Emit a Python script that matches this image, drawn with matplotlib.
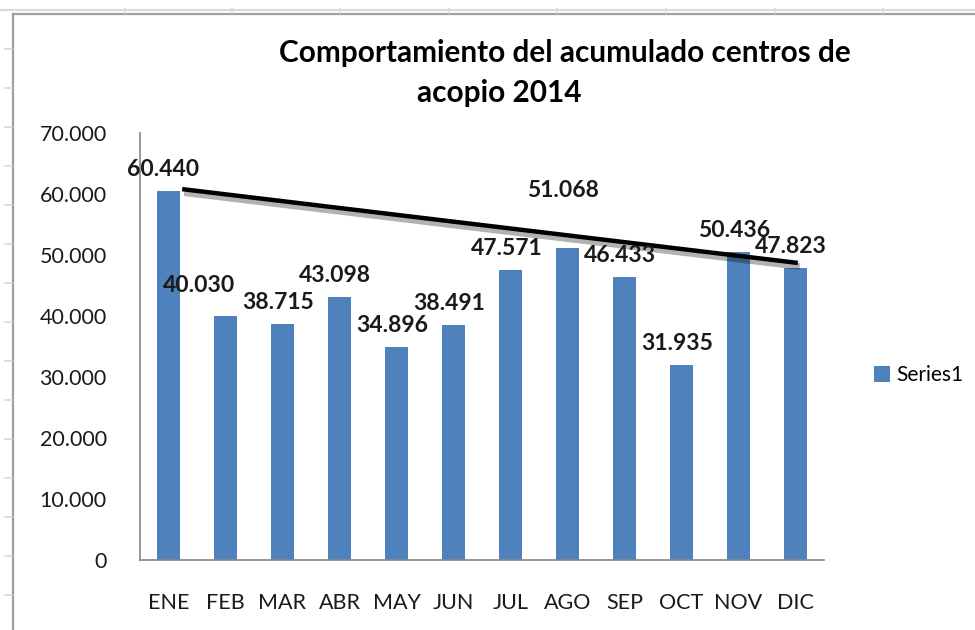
import matplotlib
matplotlib.use("Agg")
import matplotlib.pyplot as plt
import matplotlib.patheffects as pe
from matplotlib.lines import Line2D

# datos del grafico
months = ['ENE', 'FEB', 'MAR', 'ABR', 'MAY', 'JUN',
          'JUL', 'AGO', 'SEP', 'OCT', 'NOV', 'DIC']
values = [60440, 40030, 38715, 43098, 34896, 38491,
          47571, 51068, 46433, 31935, 50436, 47823]
yticks = [0, 10000, 20000, 30000, 40000, 50000, 60000, 70000]
trend_ends = [60800, 48700]   # linea dibujada a mano sobre el grafico

# labels moved by hand in the original (offsets in points)
label_shift = {0: (-4, 0), 1: (-19, 6), 7: (-3, 26)}

blue = '#4F81BD'
grey = '#868686'

plt.rcParams['font.family'] = ['Lato', 'DejaVu Sans']

fig = plt.figure(figsize=(9.75, 6.3), dpi=100)
ax = fig.add_axes([140 / 975, 1 - 560 / 630, 684 / 975, 427 / 630])

x = list(range(len(months)))
ax.bar(x, values, width=0.39, color=blue, label='Series1', zorder=2)

for i, v in enumerate(values):
    dx, dy = label_shift.get(i, (-3, 0))
    ax.annotate('{:,}'.format(v).replace(',', '.'), (i, v),
                xytext=(dx, 8 + dy), textcoords='offset points',
                ha='center', va='bottom', fontsize=16.5, fontweight='bold',
                color='#1a1a1a', zorder=4)

# linea de tendencia con sombra
ax.plot([0.24, 11.04], trend_ends, color='black', lw=3.2,
        solid_capstyle='butt', zorder=3,
        path_effects=[pe.SimpleLineShadow(offset=(1.5, -2.5), alpha=0.3,
                                          linewidth=5),
                      pe.Normal()])

ax.set_xlim(-0.5, len(months) - 0.5)
ax.set_ylim(0, 70000)
ax.set_yticks(yticks)
ax.set_yticklabels(['{:,}'.format(t).replace(',', '.') for t in yticks])
ax.set_xticks(x)
ax.set_xticklabels(months)
ax.tick_params(axis='y', length=0, pad=24, labelsize=15.5, labelcolor='#1a1a1a')
ax.tick_params(axis='x', length=0, pad=24, labelsize=15.5, labelcolor='#1a1a1a')

for s in ['top', 'right']:
    ax.spines[s].set_visible(False)
for s in ['left', 'bottom']:
    ax.spines[s].set_color(grey)
    ax.spines[s].set_linewidth(1.2)

ax.legend(loc='center left', bbox_to_anchor=(855 / 975, 1 - 375 / 630),
          bbox_transform=fig.transFigure, frameon=False, fontsize=15,
          handlelength=0.8, handleheight=0.8, handletextpad=0.3)

fig.text(565 / 975, 1 - 53 / 630, 'Comportamiento del acumulado centros de',
         ha='center', va='center', fontsize=21.4, fontweight='bold')
fig.text(499 / 975, 1 - 93 / 630, 'acopio 2014',
         ha='center', va='center', fontsize=21.4, fontweight='bold')

# borde del grafico y rejilla de la hoja de calculo
W, H = 975.0, 630.0
fig.add_artist(Line2D([0, 1], [1 - 10 / H, 1 - 10 / H], color='#d9d9d9', lw=1.5))
fig.add_artist(Line2D([13 / W, 1], [1 - 14 / H, 1 - 14 / H], color='#a0a0a0', lw=1.6))
fig.add_artist(Line2D([13 / W, 13 / W], [0, 1 - 14 / H], color='#a0a0a0', lw=1.6))
for yy in range(49, 630, 39):
    fig.add_artist(Line2D([5 / W, 12 / W], [1 - yy / H, 1 - yy / H],
                          color='#d9d9d9', lw=1.2))
for xx in [125, 232, 340, 449, 557, 666, 775, 883]:
    fig.add_artist(Line2D([xx / W, xx / W], [1 - 9 / H, 1 - 13 / H],
                          color='#d9d9d9', lw=1.2))

fig.savefig('out.png', dpi=100)
